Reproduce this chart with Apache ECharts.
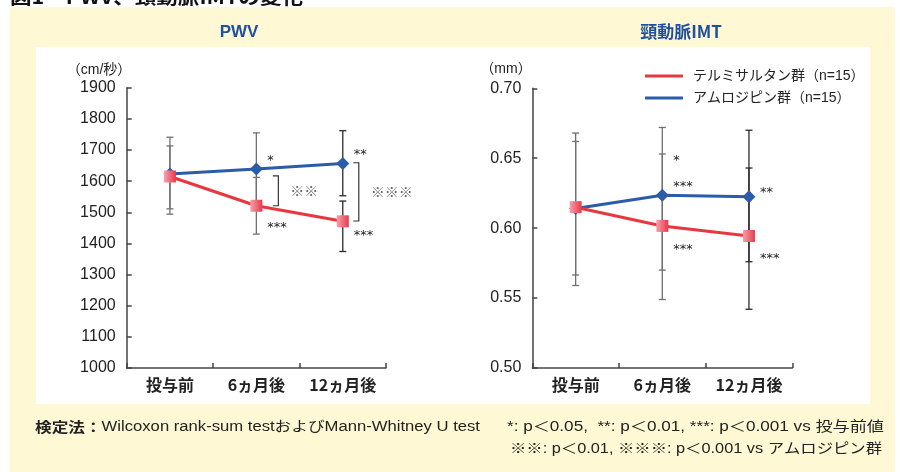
<!DOCTYPE html>
<html><head><meta charset="utf-8">
<script src="https://cdn.jsdelivr.net/npm/echarts@6/dist/echarts.min.js"></script>
<style>html,body{margin:0;padding:0;background:#fff}#c{width:900px;height:472px}</style>
</head><body><div id="c"></div>
<script>
// ---- data ----
const categories = ['投与前', '6ヵ月後', '12ヵ月後'];
const seriesNames = ['テルミサルタン群（n=15）', 'アムロジピン群（n=15）'];
const pwvTelmi = [1615, 1521, 1471];
const pwvAmlo = [1623, 1639, 1657];
const pwvTelmiErr = [[1511, 1713], [1430, 1612], [1374, 1536]];
const pwvAmloErr = [[1494, 1741], [1523, 1755], [1553, 1762]];
const imtTelmi = [0.615, 0.6016, 0.5944];
const imtAmlo = [0.614, 0.6235, 0.6225];
const imtTelmiErr = [[0.5665, 0.662], [0.549, 0.653], [0.542, 0.643]];
const imtAmloErr = [[0.559, 0.668], [0.570, 0.672], [0.576, 0.670]];
const pwvAxis = { min: 1000, max: 1900, interval: 100 };
const imtAxis = { min: 0.50, max: 0.70, interval: 0.05 };
// significance marks: [category index, value level, text]
const pwvSig = [[1, 1674, '*'], [2, 1695, '**'], [1, 1459, '***'], [2, 1434, '***']];
const imtSig = [[1, 0.6502, '*'], [1, 0.6316, '***'], [2, 0.6273, '**'], [1, 0.5866, '***'], [2, 0.5801, '***']];
// between-group brackets: [category index, top value, bottom value, text]
const pwvBrackets = [[1, 1617, 1521, '※※'], [2, 1659, 1472, '※※※']];

// ---- styles / layout ----
const RED = '#e8373e', BLUE = '#2b5ca9';
const redGrad = { type: 'linear', x: 0, y: 0, x2: 1, y2: 0, colorStops: [{ offset: 0, color: '#f7a0ac' }, { offset: 1, color: '#e8394a' }] };
const bracketDx = [22, 16];
const CJK = '"Noto Sans CJK JP"';
const LAT = '"Liberation Sans", Arial';

function errRender(params, api) {
  const i = api.value(0);
  const lo = api.coord([i, api.value(1)]);
  const hi = api.coord([i, api.value(2)]);
  const x = lo[0], w = 3.5;
  const color = i === 2 ? '#2a2a2a' : '#707070';
  const st = { stroke: color, lineWidth: 1.3 };
  return { type: 'group', children: [
    { type: 'line', shape: { x1: x, y1: lo[1], x2: x, y2: hi[1] }, style: st },
    { type: 'line', shape: { x1: x - w, y1: lo[1], x2: x + w, y2: lo[1] }, style: st },
    { type: 'line', shape: { x1: x - w, y1: hi[1], x2: x + w, y2: hi[1] }, style: st }
  ] };
}
function sigRender(texts) {
  return function (params, api) {
    const p = api.coord([api.value(0), api.value(1)]);
    return { type: 'text', x: p[0] + 11, y: p[1] + 3,
      style: { text: texts[params.dataIndex], fontSize: 13, fontFamily: '"DejaVu Sans"', fill: '#222',
        align: 'left', verticalAlign: 'middle', textAlign: 'left', textVerticalAlign: 'middle' } };
  };
}
function bracketRender(params, api) {
  const i = api.value(0);
  const a = api.coord([i, api.value(1)]);
  const b = api.coord([i, api.value(2)]);
  const x = a[0] + bracketDx[params.dataIndex];
  const st = { stroke: '#333', lineWidth: 1.2, fill: null };
  return { type: 'group', children: [
    { type: 'polyline', shape: { points: [[x - 5.5, a[1]], [x, a[1]], [x, b[1]], [x - 5.5, b[1]]] }, style: st },
    { type: 'text', x: x + 12, y: (a[1] + b[1]) / 2,
      style: { text: pwvBrackets[params.dataIndex][3], fontSize: 14, fontFamily: CJK, fill: '#666',
        align: 'left', verticalAlign: 'middle', textAlign: 'left', textVerticalAlign: 'middle' } }
  ] };
}

function measure(text, font) {
  const c = document.createElement('canvas').getContext('2d');
  c.font = font; return c.measureText(text).width;
}

const xAxisBase = {
  type: 'category', data: categories, boundaryGap: true,
  axisLine: { lineStyle: { color: '#444', width: 1.5 } },
  axisTick: { show: true, inside: true, length: 5, lineStyle: { color: '#444', width: 1.5 } },
  axisLabel: { interval: 0, fontSize: 16, fontWeight: 'bold', fontFamily: CJK, color: '#222', margin: 9 }
};
function yAxisBase(ax, fmt) {
  return Object.assign({
    type: 'value', axisLine: { show: true, lineStyle: { color: '#444', width: 1.5 } },
    axisTick: { show: true, inside: true, length: 5, lineStyle: { color: '#444', width: 1.5 } },
    splitLine: { show: false },
    axisLabel: { fontSize: 16, fontFamily: LAT, color: '#222', margin: 11, formatter: fmt }
  }, ax);
}

const footFont = '14px ' + LAT + ', ' + CJK;
const footBold = 'bold 14px ' + CJK;
const f1a = '検定法：', f1b = 'Wilcoxon rank-sum testおよびMann-Whitney U test';
const f2 = '*: p＜0.05,  **: p＜0.01, ***: p＜0.001 vs 投与前値';
const f3 = '※※: p＜0.01, ※※※: p＜0.001 vs アムロジピン群';
const wA = measure(f1a, footBold), wB = measure(f1b, footFont);
const s1 = 445 / (wA + wB);
const s2 = 377 / measure(f2, footFont);
const s3 = 372 / measure(f3, footFont);
const titleText = '図1　PWV、頸動脈IMTの変化';
const titleFont = 'bold 18px ' + CJK;
const sT = 293 / measure(titleText, titleFont);

const chart = echarts.init(document.getElementById('c'), null, { renderer: 'canvas' });
chart.setOption({
  animation: false,
  backgroundColor: '#ffffff',
  graphic: [
    { type: 'rect', z: -10, shape: { x: 10, y: 7, width: 885, height: 465 }, style: { fill: '#fef9d4' } },
    { type: 'rect', z: -9, shape: { x: 36, y: 47, width: 834, height: 357 }, style: { fill: '#ffffff' } },
    { type: 'group', x: 10, y: 6, scaleX: sT, children: [
      { type: 'text', style: { text: titleText, font: titleFont, fill: '#111', align: 'left', verticalAlign: 'bottom' } }
    ] },
    { type: 'text', x: 239, y: 32, style: { text: 'PWV', font: 'bold 17px ' + LAT, fill: '#1f4f9f', align: 'center', verticalAlign: 'middle' } },
    { type: 'text', x: 681, y: 32, style: { text: '頸動脈IMT', font: 'bold 17px ' + CJK, fill: '#1f4f9f', align: 'center', verticalAlign: 'middle' } },
    { type: 'text', x: 99, y: 70, style: { text: '（cm/秒）', font: '14px ' + LAT + ', ' + CJK, fill: '#222', align: 'center', verticalAlign: 'middle' } },
    { type: 'text', x: 506, y: 69, style: { text: '（mm）', font: '14px ' + LAT + ', ' + CJK, fill: '#222', align: 'center', verticalAlign: 'middle' } },
    { type: 'group', x: 35, y: 427, scaleX: s1, children: [
      { type: 'text', x: 0, style: { text: f1a, font: footBold, fill: '#222', align: 'left', verticalAlign: 'middle' } },
      { type: 'text', x: wA, style: { text: f1b, font: footFont, fill: '#222', align: 'left', verticalAlign: 'middle' } }
    ] },
    { type: 'group', x: 884, y: 427, scaleX: s2, children: [
      { type: 'text', style: { text: f2, font: footFont, fill: '#222', align: 'right', verticalAlign: 'middle' } }
    ] },
    { type: 'group', x: 882, y: 449, scaleX: s3, children: [
      { type: 'text', style: { text: f3, font: footFont, fill: '#222', align: 'right', verticalAlign: 'middle' } }
    ] }
  ],
  legend: {
    orient: 'vertical', left: 640, top: 64, itemWidth: 38, itemHeight: 3, itemGap: 8, icon: 'rect',
    textStyle: { fontSize: 14, fontFamily: LAT + ', ' + CJK, color: '#222', padding: [0, 0, 0, 5] },
    data: [{ name: seriesNames[0], itemStyle: { color: RED } }, { name: seriesNames[1], itemStyle: { color: BLUE } }]
  },
  grid: [
    { left: 126.7, top: 87.7, width: 259.3, height: 280.3 },
    { left: 532.3, top: 88.3, width: 260, height: 279.7 }
  ],
  xAxis: [Object.assign({ gridIndex: 0 }, xAxisBase), Object.assign({ gridIndex: 1 }, xAxisBase)],
  yAxis: [
    yAxisBase(Object.assign({ gridIndex: 0 }, pwvAxis), v => String(v)),
    yAxisBase(Object.assign({ gridIndex: 1 }, imtAxis), v => v.toFixed(2))
  ],
  series: [
    { type: 'custom', xAxisIndex: 0, yAxisIndex: 0, z: 1, renderItem: errRender, encode: { x: 0, y: [1, 2] },
      data: pwvAmloErr.map((e, i) => [i, e[0], e[1]]) },
    { type: 'custom', xAxisIndex: 0, yAxisIndex: 0, z: 1, renderItem: errRender, encode: { x: 0, y: [1, 2] },
      data: pwvTelmiErr.map((e, i) => [i, e[0], e[1]]) },
    { type: 'custom', xAxisIndex: 1, yAxisIndex: 1, z: 1, renderItem: errRender, encode: { x: 0, y: [1, 2] },
      data: imtAmloErr.map((e, i) => [i, e[0], e[1]]) },
    { type: 'custom', xAxisIndex: 1, yAxisIndex: 1, z: 1, renderItem: errRender, encode: { x: 0, y: [1, 2] },
      data: imtTelmiErr.map((e, i) => [i, e[0], e[1]]) },
    { name: seriesNames[1], type: 'line', xAxisIndex: 0, yAxisIndex: 0, z: 3, data: pwvAmlo,
      symbol: 'diamond', symbolSize: 13, lineStyle: { color: BLUE, width: 3 }, itemStyle: { color: BLUE } },
    { name: seriesNames[0], type: 'line', xAxisIndex: 0, yAxisIndex: 0, z: 4, data: pwvTelmi,
      symbol: 'rect', symbolSize: 12, lineStyle: { color: RED, width: 3 }, itemStyle: { color: redGrad } },
    { name: seriesNames[1], type: 'line', xAxisIndex: 1, yAxisIndex: 1, z: 3, data: imtAmlo,
      symbol: 'diamond', symbolSize: 13, lineStyle: { color: BLUE, width: 3 }, itemStyle: { color: BLUE } },
    { name: seriesNames[0], type: 'line', xAxisIndex: 1, yAxisIndex: 1, z: 4, data: imtTelmi,
      symbol: 'rect', symbolSize: 12, lineStyle: { color: RED, width: 3 }, itemStyle: { color: redGrad } },
    { type: 'custom', xAxisIndex: 0, yAxisIndex: 0, z: 5, renderItem: sigRender(pwvSig.map(s => s[2])),
      encode: { x: 0, y: 1 }, data: pwvSig.map(s => [s[0], s[1]]) },
    { type: 'custom', xAxisIndex: 1, yAxisIndex: 1, z: 5, renderItem: sigRender(imtSig.map(s => s[2])),
      encode: { x: 0, y: 1 }, data: imtSig.map(s => [s[0], s[1]]) },
    { type: 'custom', xAxisIndex: 0, yAxisIndex: 0, z: 5, renderItem: bracketRender,
      encode: { x: 0, y: [1, 2] }, data: pwvBrackets.map(b => [b[0], b[1], b[2]]) }
  ]
});
</script>
</body></html>
